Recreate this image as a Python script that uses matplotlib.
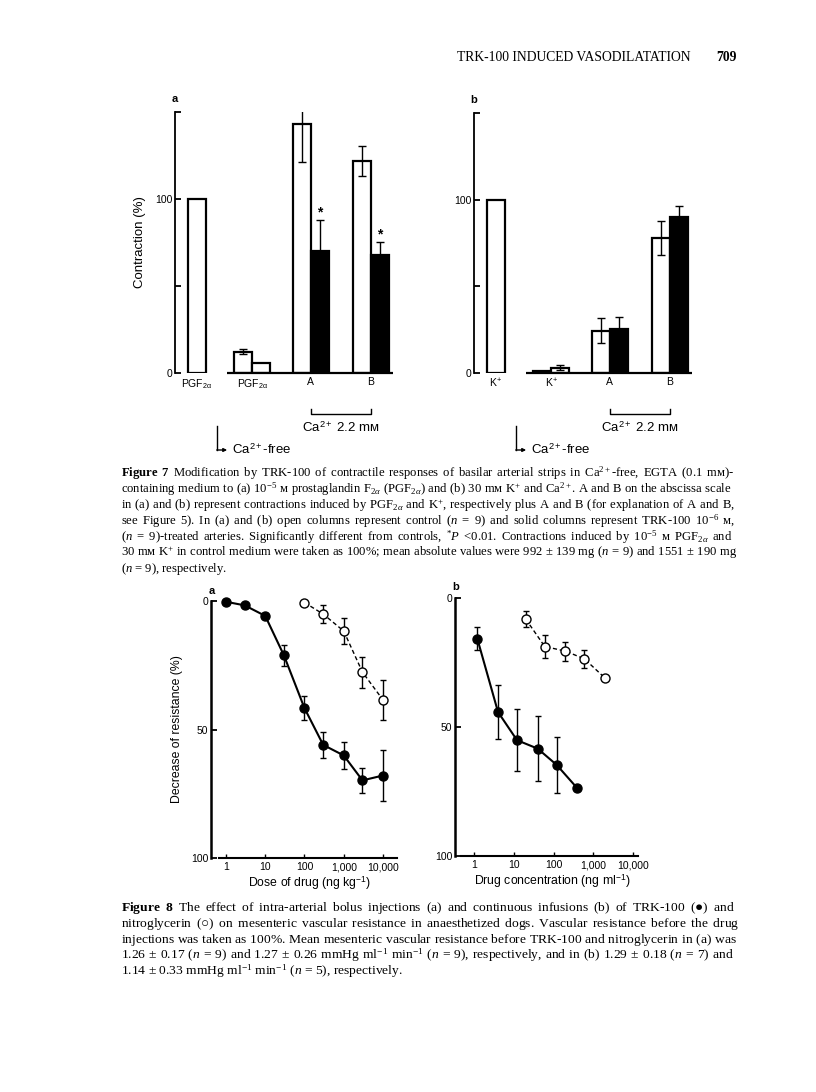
import numpy as np
import matplotlib
matplotlib.use("Agg")
import matplotlib.pyplot as plt
from matplotlib.transforms import blended_transform_factory

plt.rcParams['font.family'] = ['Liberation Sans', 'DejaVu Sans']
plt.rcParams['mathtext.fontset'] = 'custom'
plt.rcParams['mathtext.rm'] = 'Liberation Serif'
plt.rcParams['mathtext.it'] = 'Liberation Serif:italic'
plt.rcParams['mathtext.bf'] = 'Liberation Serif:bold'
plt.rcParams['mathtext.fallback'] = 'stix'

# ---- Figure 7 data (contraction, %) ----
a7_labels = [r'PGF$_\mathregular{2α}$', r'PGF$_\mathregular{2α}$', 'A', 'B']
a7_ref = 100
a7_ctrl = [12.3, 143, 122]
a7_ctrl_err = [1.5, 22, 8.5]
a7_trk = [5.7, 70, 68]
a7_trk_err = [0, 18, 7.5]
a7_star = [False, True, True]

b7_labels = [r'K$^\mathregular{+}$', r'K$^\mathregular{+}$', 'A', 'B']
b7_ref = 100
b7_ctrl = [1, 24.5, 78]
b7_ctrl_err = [0, 7, 9.7]
b7_trk = [3, 25.5, 90]
b7_trk_err = [1.5, 7, 6.5]
b7_star = [False, False, False]

# ---- Figure 8 data (decrease of resistance, %) ----
a8_dose_trk = [1, 3, 10, 30, 100, 300, 1000, 3000, 10000]
a8_trk = [0.3, 1.7, 5.8, 21.2, 41.7, 56, 60.1, 69.8, 67.9]
a8_trk_err = [0, 0, 1, 4, 4.7, 5.2, 5.2, 5, 10]
a8_dose_ntg = [100, 300, 1000, 3000, 10000]
a8_ntg = [0.6, 5.1, 11.7, 27.7, 38.5]
a8_ntg_err = [0, 3.4, 5.2, 6, 7.9]

b8_conc_trk = [1.2, 4, 12, 40, 120, 400]
b8_trk = [15.7, 44.2, 55.1, 58.4, 64.7, 73.8]
b8_trk_err = [4.3, 10.4, 12, 12.6, 10.8, 0]
b8_conc_ntg = [20, 60, 200, 600, 2000]
b8_ntg = [8.2, 18.8, 20.6, 23.6, 31.1]
b8_ntg_err = [3, 4.5, 3.7, 3.4, 0]

log_ticks = [1, 10, 100, 1000, 10000]
log_ticklabels = ['1', '10', '100', '1,000', '10,000']

cap7 = [
    "Figure 7  Modification by TRK-100 of contractile responses of basilar arterial strips in Ca$^{2+}$-free, EGTA (0.1 mм)-",
    "containing medium to (a) 10$^{-5}$ м prostaglandin F$_{2α}$ (PGF$_{2α}$) and (b) 30 mм K$^{+}$ and Ca$^{2+}$. A and B on the abscissa scale",
    "in (a) and (b) represent contractions induced by PGF$_{2α}$ and K$^{+}$, respectively plus A and B (for explanation of A and B,",
    "see Figure 5). In (a) and (b) open columns represent control ($n$ = 9) and solid columns represent TRK-100 10$^{-6}$ м,",
    "($n$ = 9)-treated arteries. Significantly different from controls, $^{*}P$ <0.01. Contractions induced by 10$^{-5}$ м PGF$_{2α}$ and",
    "30 mм K$^{+}$ in control medium were taken as 100%; mean absolute values were 992 ± 139 mg ($n$ = 9) and 1551 ± 190 mg",
    "($n$ = 9), respectively.",
]
cap8 = [
    "Figure 8  The effect of intra-arterial bolus injections (a) and continuous infusions (b) of TRK-100 (●) and",
    "nitroglycerin (○) on mesenteric vascular resistance in anaesthetized dogs. Vascular resistance before the drug",
    "injections was taken as 100%. Mean mesenteric vascular resistance before TRK-100 and nitroglycerin in (a) was",
    "1.26 ± 0.17 ($n$ = 9) and 1.27 ± 0.26 mmHg ml$^{-1}$ min$^{-1}$ ($n$ = 9), respectively, and in (b) 1.29 ± 0.18 ($n$ = 7) and",
    "1.14 ± 0.33 mmHg ml$^{-1}$ min$^{-1}$ ($n$ = 5), respectively.",
]

W, H = 816, 1092
fig = plt.figure(figsize=(W / 100, H / 100), dpi=100)
fig.patch.set_facecolor('white')


def box(l, t, r, b):
    return [l / W, 1 - b / H, (r - l) / W, (b - t) / H]


def fy(py):
    return 1 - py / H


serif = ['Liberation Serif', 'DejaVu Serif', 'DejaVu Sans']


# ---------------- Figure 7 ----------------
def bar_panel(ax, ref, ctrl, ctrl_err, trk, trk_err, stars, labels, letter, ylabel):
    ref_x = 1.2
    grp = np.array([3.8, 7.05, 10.4])
    cx, tx = grp, grp + 1
    tface = ['white', 'black', 'black']
    ax.bar(ref_x, ref, width=1, color='white', edgecolor='black', lw=1.6)
    ax.bar(cx, ctrl, width=1, color='white', edgecolor='black', lw=1.6, zorder=2)
    ax.bar(tx, trk, width=1, color=tface, edgecolor='black', lw=1.6, zorder=2)
    for x, v, e in list(zip(cx, ctrl, ctrl_err)) + list(zip(tx, trk, trk_err)):
        if e > 0:
            ax.errorbar(x, v, yerr=e, fmt='none', ecolor='black', elinewidth=1,
                        capsize=3, capthick=1, zorder=3)
    for x, v, e, s in zip(tx, trk, trk_err, stars):
        if s:
            ax.text(x, v + e + 0.3, '*', ha='center', va='bottom', fontsize=10,
                    fontweight='bold')
    ax.plot([cx[0] - 0.9, tx[-1] + 0.7], [0, 0], color='black', lw=1.6,
            clip_on=False, solid_capstyle='butt')
    ax.set_xlim(0, 12.4)
    ax.set_ylim(0, 150)
    for s in ['top', 'right', 'bottom']:
        ax.spines[s].set_visible(False)
    ax.spines['left'].set_linewidth(1.3)
    ax.spines['left'].set_bounds(0, 150)
    ax.set_yticks([0, 50, 100, 150])
    ax.set_yticklabels(['0', '', '100', ''])
    ax.tick_params(axis='y', direction='in', length=4, width=1.3, labelsize=7.5, pad=2)
    lx = [ref_x] + list((cx + tx) / 2)
    ax.set_xticks(lx)
    ax.set_xticklabels(labels)
    ax.tick_params(axis='x', length=0, labelsize=7.5, pad=3)
    if ylabel:
        ax.set_ylabel('Contraction (%)', fontsize=9.5)
        ax.yaxis.set_label_coords(-0.13, 0.5)
    ax.text(0, 1.03, letter, transform=ax.transAxes, fontsize=8,
            fontweight='bold', ha='center', va='bottom')

    tr = blended_transform_factory(ax.transData, fig.transFigure)
    x1, x2 = lx[2], lx[3]
    ax.plot([x1, x1, x2, x2], [fy(409), fy(414), fy(414), fy(409)], color='black',
            lw=1, transform=tr, clip_on=False)
    ax.text((x1 + x2) / 2, fy(428), r'Ca$^\mathregular{2+}$ 2.2 mм', transform=tr,
            ha='center', va='center', fontsize=9.5)
    xa = 2.35
    ax.plot([xa, xa], [fy(426), fy(450)], color='black', lw=1, transform=tr,
            clip_on=False)
    ax.annotate('', xy=(xa + 0.55, fy(450)), xytext=(xa - 0.03, fy(450)),
                xycoords=tr, textcoords=tr,
                arrowprops=dict(arrowstyle='-|>', lw=1, color='black',
                                mutation_scale=5, shrinkA=0, shrinkB=0))
    ax.text(xa + 0.8, fy(450), r'Ca$^\mathregular{2+}$-free', transform=tr,
            ha='left', va='center', fontsize=9.5)


ax7a = fig.add_axes(box(175, 112, 398, 373))
bar_panel(ax7a, a7_ref, a7_ctrl, a7_ctrl_err, a7_trk, a7_trk_err, a7_star,
          a7_labels, 'a', True)
ax7b = fig.add_axes(box(474, 113, 697, 373))
bar_panel(ax7b, b7_ref, b7_ctrl, b7_ctrl_err, b7_trk, b7_trk_err, b7_star,
          b7_labels, 'b', False)


# ---------------- Figure 8 ----------------
def curve_panel(ax, xlim, xstart, xt, yt, xe, xo, yo, oe, xlabel, ylabel):
    ax.set_xscale('log')
    ax.set_xlim(*xlim)
    ax.set_ylim(100, 0)
    ax.errorbar(xt, yt, yerr=xe, fmt='-o', color='black', mfc='black', mec='black',
                ms=6.5, lw=1.5, elinewidth=1, capsize=2.5, capthick=1, clip_on=False)
    ax.plot(xo, yo, '--', color='black', lw=1, dashes=(3, 2))
    ax.errorbar(xo, yo, yerr=oe, fmt='none', ecolor='black', elinewidth=1,
                capsize=2.5, capthick=1)
    ax.plot(xo, yo, 'o', mfc='white', mec='black', mew=1, ms=6.5, clip_on=False)
    for s in ['top', 'right']:
        ax.spines[s].set_visible(False)
    ax.spines['left'].set_linewidth(1.8)
    ax.spines['left'].set_bounds(0, 100)
    ax.spines['bottom'].set_linewidth(1.5)
    ax.spines['bottom'].set_bounds(xstart, xlim[1])
    ax.set_xticks(log_ticks)
    ax.set_xticklabels(log_ticklabels)
    ax.minorticks_off()
    ax.set_yticks([0, 50, 100])
    ax.set_yticklabels(['0', '50', '100'])
    ax.tick_params(axis='y', direction='in', length=4, width=1.3, labelsize=7.5, pad=2)
    ax.tick_params(axis='x', direction='in', length=3, width=1, labelsize=7.5, pad=3)
    ax.text(0.53, -0.097, xlabel, transform=ax.transAxes, ha='center', va='center',
            fontsize=8.8)
    if ylabel:
        ax.set_ylabel('Decrease of resistance (%)', fontsize=8.8)
        ax.yaxis.set_label_coords(-0.15, 0.5)


ax8a = fig.add_axes(box(211, 601, 397, 858))
curve_panel(ax8a, (0.415, 22740), 0.663, a8_dose_trk, a8_trk, a8_trk_err,
            a8_dose_ntg, a8_ntg, a8_ntg_err,
            r'Dose of drug (ng kg$^\mathregular{-1}$)', True)
ax8b = fig.add_axes(box(455, 598, 638, 856))
curve_panel(ax8b, (0.33, 13390), 0.47, b8_conc_trk, b8_trk, b8_trk_err,
            b8_conc_ntg, b8_ntg, b8_ntg_err,
            r'Drug concentration (ng ml$^\mathregular{-1}$)', False)
fig.text(212 / W, fy(591), 'a', fontsize=8, fontweight='bold', ha='center', va='center')
fig.text(456 / W, fy(587), 'b', fontsize=8, fontweight='bold', ha='center', va='center')

# ---------------- page text ----------------
fig.text(691 / W, fy(61), 'TRK-100 INDUCED VASODILATATION', family=serif,
         fontsize=9.8, ha='right', va='baseline')
fig.text(737 / W, fy(61), '709', family=serif, fontsize=9.8, fontweight='bold',
         ha='right', va='baseline')

renderer = fig.canvas.get_renderer()
probe = fig.text(0, 0, '', family=serif, fontsize=10)


def width(s, size):
    probe.set_text(s)
    probe.set_fontsize(size)
    return probe.get_window_extent(renderer).width


def caption(lines, x0, x1, y0, dy):
    # one text object per line; justified with mathtext \hspace between words
    toks = []
    for i, line in enumerate(lines):
        ws = line.split()
        if i == 0:
            ws = [r'$\mathbf{%s}$' % w for w in ws[:2]] + ws[2:]
        toks.append(ws)
    sp10 = width('a a', 10) - width('aa', 10)
    natural = max(sum(width(w, 10) for w in ws) + sp10 * (len(ws) - 1) for ws in toks)
    size = 10 * (x1 - x0) * 0.985 / natural
    em = (width(r'x$\hspace{10}$x', size) - width(r'x$\hspace{0}$x', size)) / 10
    sp = width('a a', size) - width('aa', size)
    for i, ws in enumerate(toks):
        widths = [width(w, size) for w in ws]
        if i == len(toks) - 1:
            gap = sp
        else:
            gap = (x1 - x0 - sum(widths)) / (len(ws) - 1)
        sep = r'$\hspace{%.4f}$' % (gap / em)
        fig.text(x0 / W, fy(y0 + i * dy), sep.join(ws), family=serif, fontsize=size,
                 ha='left', va='baseline')


caption(cap7, 121, 738, 477, 15.8)
caption(cap8, 121, 738, 911, 15.8)
probe.remove()

fig.savefig('out.png', dpi=100, facecolor='white')
